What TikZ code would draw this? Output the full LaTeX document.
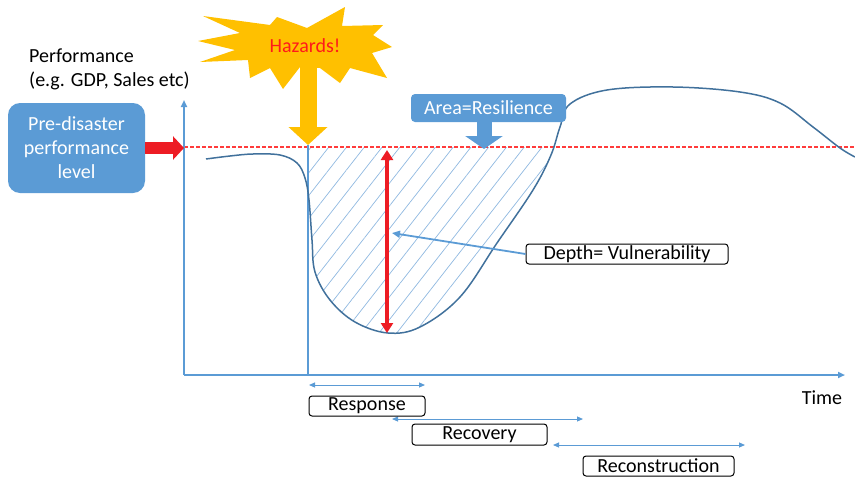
\documentclass[tikz,border=0pt]{standalone}
\usepackage{fontspec}
\setmainfont{Carlito}
\usetikzlibrary{arrows.meta,patterns.meta}
\definecolor{boxblue}{HTML}{5B9BD5}
\definecolor{axisblue}{HTML}{5B9BD5}
\definecolor{curveblue}{HTML}{41719C}
\definecolor{hazy}{HTML}{FFC000}
\definecolor{redarrow}{HTML}{ED1C24}
\definecolor{hazred}{HTML}{FF1A1A}
\definecolor{levelred}{RGB}{255,60,60}
\definecolor{hatchblue}{HTML}{8FB8E0}
\tikzset{
  bluebox/.style={fill=boxblue, text=white, rounded corners=#1, inner sep=0pt, align=center},
  whitebox/.style={draw=black, line width=1pt, fill=white, rounded corners=3pt, inner sep=0pt},
  axisline/.style={draw=axisblue, line width=2pt, -{Triangle[length=7pt,width=6pt]}},
  spanarrow/.style={draw=axisblue, line width=1pt, {Triangle[length=6pt,width=5pt]}-{Triangle[length=6pt,width=5pt]}},
  levelline/.style={draw=levelred, line width=1.2pt, dash pattern=on 4pt off 2pt},
  plain/.style={inner sep=0pt}
}
\newcommand{\perfcurve}{plot[smooth, tension=0.6] coordinates {(206,159) (230,156) (253,154) (280,155) (297,163) (305,178) (309,200) (312,240) (315,272) (330,300) (355,322) (388,333) (420,327) (460,297) (497,243) (533,190) (551,155) (560,127) (570,104) (607,90) (673,87) (740,92) (780,103) (813,127) (840,148) (855,157)}}
\begin{document}
\begin{tikzpicture}[x=1pt,y=-1pt,font=\fontsize{20}{24}\selectfont]
\useasboundingbox (0,0) rectangle (855,477);

% coordinates
\coordinate (O) at (184,375);
\coordinate (Ytop) at (184,100);
\coordinate (Xend) at (845,375);
\coordinate (Hbase) at (184,147);
\coordinate (Hend) at (855,147);
\coordinate (hzA) at (308,66);
\coordinate (hzB) at (308,145);
\coordinate (vbot) at (308,375);
\coordinate (dtop) at (387,150);
\coordinate (dbot) at (387,333);
\coordinate (dtarget) at (392,233);

% hatched area
\begin{scope}
  \clip (308,147) rectangle (620,345);
  \fill[pattern={Lines[angle=52,distance=14pt,line width=0.7pt]}, pattern color=hatchblue]
    \perfcurve -- (855,60) -- (206,60) -- cycle;
\end{scope}

% dashed pre-disaster level
\path[levelline] (Hbase) -- (Hend);

% axes
\draw[axisline] (O) -- (Ytop);
\draw[axisline] (O) -- (Xend);

% vertical line at hazard
\draw[axisblue, line width=1.2pt] (hzB) -- (vbot);

% performance curve
\draw[curveblue, line width=1.5pt] \perfcurve;

% star
\fill[hazy] (198,41) -- (240,33) -- (203,16) -- (270,25) -- (277,17) -- (307,28) -- (345,7) -- (342,26) -- (383,25) -- (373,35) -- (392,47) -- (372,53) -- (387,78) -- (350,68) -- (340,83) -- (320,68) -- (300,67) -- (283,89) -- (270,68) -- (250,78) -- (248,60) -- (200,62) -- (235,50) -- cycle;
\node[plain, text=hazred] (hz) at (305,46) {Hazards!};
\draw[hazy, line width=17pt, -{Triangle[length=18pt,width=38pt]}] (hzA) -- (hzB);

% axis labels
\node[plain, anchor=west, align=left] (perf) at (29,69) {Performance\\(e.g. GDP, Sales etc)};
\node[plain] (time) at (822,398) {Time};

% pre-disaster box
\node[bluebox=12pt, minimum width=137pt, minimum height=90pt] (pre) at (76.5,148) {Pre-disaster\\performance\\level};
\draw[redarrow, line width=12pt, -{Triangle[length=11pt,width=23pt]}] (pre.east) -- (pre.east -| O);

% area = resilience
\node[bluebox=4pt, minimum width=155pt, minimum height=28pt] (area) at (488.5,108) {Area=Resilience};
\draw[boxblue, line width=15pt, -{Triangle[length=13pt,width=37pt]}] (area.south -| 484,0) -- (484,149);

% depth arrow
\draw[redarrow, line width=3.5pt, {Triangle[length=10pt,width=12pt]}-{Triangle[length=10pt,width=12pt]}] (dtop) -- (dbot);

% depth box
\node[whitebox, minimum width=202pt, minimum height=20pt] (depth) at (627,254) {Depth= Vulnerability};
\draw[axisblue, line width=1.8pt, -{Triangle[length=8pt,width=7pt]}] (depth.west) -- (dtarget);

% timeline
\coordinate (r1a) at (309,385); \coordinate (r1b) at (425,385);
\coordinate (r2a) at (392,419); \coordinate (r2b) at (583,419);
\coordinate (r3a) at (553,445); \coordinate (r3b) at (745,445);
\draw[spanarrow] (r1a) -- (r1b);
\draw[spanarrow] (r2a) -- (r2b);
\draw[spanarrow] (r3a) -- (r3b);
\node[whitebox, minimum width=116pt, minimum height=20pt] (resp) at (367,406) {Response};
\node[whitebox, minimum width=135pt, minimum height=21pt] (recov) at (479.5,434.5) {Recovery};
\node[whitebox, minimum width=151pt, minimum height=20pt] (recon) at (658.5,466) {Reconstruction};
\end{tikzpicture}
\end{document}
